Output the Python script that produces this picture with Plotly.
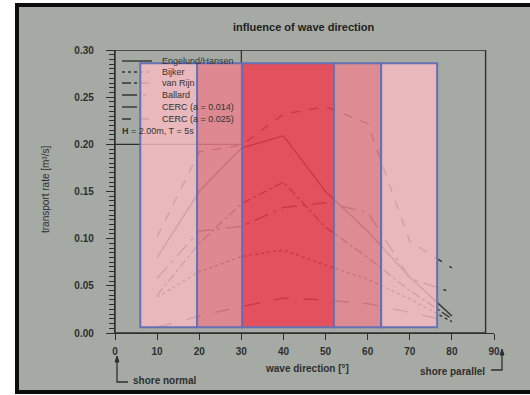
import plotly.graph_objects as go

# ---------------- data ----------------
directions = [10, 20, 30, 40, 50, 60, 70, 80]
engelund_hansen = [0.080, 0.150, 0.196, 0.209, 0.150, 0.108, 0.059, 0.018]
bijker = [0.038, 0.065, 0.081, 0.088, 0.072, 0.057, 0.036, 0.012]
van_rijn = [0.040, 0.095, 0.137, 0.160, 0.112, 0.080, 0.045, 0.015]
ballard = [0.058, 0.108, 0.113, 0.133, 0.138, 0.128, 0.058, 0.043]
cerc_014 = [0.006, 0.018, 0.028, 0.037, 0.035, 0.031, 0.022, 0.012]
cerc_025 = [0.102, 0.192, 0.199, 0.232, 0.240, 0.222, 0.097, 0.069]

series_names = ["Engelund/Hansen", "Bijker", "van Rijn", "Ballard",
                "CERC (a = 0.014)", "CERC (a = 0.025)"]
series_values = [engelund_hansen, bijker, van_rijn, ballard, cerc_014, cerc_025]
series_dash = ["solid", "dot", "dashdot", "longdashdot", "longdash", "dash"]

x_ticks = [0, 10, 20, 30, 40, 50, 60, 70, 80, 90]
y_ticks = [0.00, 0.05, 0.10, 0.15, 0.20, 0.25, 0.30]
y_tick_labels = ["0.00", "0.05", "0.10", "0.15", "0.20", "0.25", "0.30"]

# overlay bands (x edges in degrees) and their colours
band_edges = [6, 19.5, 30.2, 52, 63.2, 76.5]
band_colors = ["rgba(249,187,195,0.80)", "rgba(236,128,140,0.80)",
               "rgba(242,58,76,0.80)", "rgba(236,132,144,0.80)",
               "rgba(249,187,195,0.80)"]
band_bottom, band_top = 0.006, 0.286

# ---------------- figure ----------------
W, H = 530, 395
L, R, T, B = 115, 36, 50, 62
pw, ph = W - L - R, H - T - B


def px(x):
    return (x - L) / pw


def py(y):
    return (H - B - y) / ph


ink = "#2e2e2e"
font = "Liberation Sans, Arial, sans-serif"

fig = go.Figure()
for name, vals, dash in zip(series_names, series_values, series_dash):
    fig.add_trace(go.Scatter(x=directions, y=vals, mode="lines", name=name,
                             line=dict(color="#333333", width=1.4, dash=dash),
                             showlegend=False, hoverinfo="skip"))

shapes = []
# photo background + black frame
shapes.append(dict(type="rect", xref="paper", yref="paper", layer="below",
                   x0=px(17), x1=px(560), y0=py(392), y1=py(5),
                   fillcolor="#a5aba4", line=dict(color="#0c0c0c", width=4)))
# plot frame box
shapes.append(dict(type="rect", xref="x", yref="y", x0=0, x1=88, y0=0, y1=0.30,
                   line=dict(color=ink, width=1.4)))
# legend frame
shapes.append(dict(type="line", xref="x", yref="y", x0=30, x1=30, y0=0.20, y1=0.30,
                   line=dict(color=ink, width=1.2)))
shapes.append(dict(type="line", xref="x", yref="y", x0=0, x1=30, y0=0.20, y1=0.20,
                   line=dict(color=ink, width=1.2)))

annotations = []
leg_rows = [61, 72, 83, 95, 107, 119]
for name, dash, ry in zip(series_names, series_dash, leg_rows):
    shapes.append(dict(type="line", xref="paper", yref="paper",
                       x0=px(122), x1=px(152), y0=py(ry), y1=py(ry),
                       line=dict(color="#333333", width=1.4, dash=dash)))
    annotations.append(dict(text=name, xref="paper", yref="paper", x=px(160), y=py(ry),
                            xanchor="left", yanchor="middle", showarrow=False,
                            font=dict(family=font, size=9, color="#333333")))
annotations.append(dict(text="<b>H</b> = 2.00m, T = 5s", xref="paper", yref="paper",
                        x=px(120), y=py(131), xanchor="left", yanchor="middle",
                        showarrow=False, font=dict(family=font, size=9, color="#333333")))

# overlay bands
for x0, x1, c in zip(band_edges[:-1], band_edges[1:], band_colors):
    shapes.append(dict(type="rect", xref="x", yref="y", layer="above",
                       x0=x0, x1=x1, y0=band_bottom, y1=band_top,
                       fillcolor=c, line=dict(color="#6670b4", width=2)))

# shore normal / parallel markers (line + small arrow heads)
shapes.append(dict(type="path", xref="paper", yref="paper",
                   path=f"M {px(117)} {py(360)} L {px(117)} {py(382)} L {px(128)} {py(382)}",
                   line=dict(color=ink, width=1.3)))
shapes.append(dict(type="path", xref="paper", yref="paper",
                   path=f"M {px(115)} {py(362)} L {px(117)} {py(356)} L {px(119)} {py(362)} Z",
                   fillcolor=ink, line=dict(color=ink, width=1)))
shapes.append(dict(type="path", xref="paper", yref="paper",
                   path=f"M {px(491)} {py(370)} L {px(502)} {py(370)} L {px(502)} {py(352)}",
                   line=dict(color=ink, width=1.3)))
shapes.append(dict(type="path", xref="paper", yref="paper",
                   path=f"M {px(500)} {py(355)} L {px(502)} {py(349)} L {px(504)} {py(355)} Z",
                   fillcolor=ink, line=dict(color=ink, width=1)))

annotations.append(dict(text="<b>shore normal</b>", xref="paper", yref="paper",
                        x=px(131), y=py(380), xanchor="left", yanchor="middle",
                        showarrow=False, font=dict(family=font, size=10, color=ink)))
annotations.append(dict(text="<b>shore parallel</b>", xref="paper", yref="paper",
                        x=px(487), y=py(371), xanchor="right", yanchor="middle",
                        showarrow=False, font=dict(family=font, size=10, color=ink)))
annotations.append(dict(text="<b>influence of wave direction</b>", xref="paper", yref="paper",
                        x=px(303), y=py(27), xanchor="center", yanchor="middle",
                        showarrow=False, font=dict(family=font, size=11, color="#222222")))
annotations.append(dict(text="<b>wave direction [°]</b>", xref="paper", yref="paper",
                        x=px(307), y=py(368), xanchor="center", yanchor="middle",
                        showarrow=False, font=dict(family=font, size=10, color=ink)))
annotations.append(dict(text="transport rate [m³/s]", xref="paper", yref="paper",
                        x=px(45), y=py(190), xanchor="center", yanchor="middle",
                        textangle=-90, showarrow=False,
                        font=dict(family=font, size=10, color=ink)))

fig.update_layout(
    width=W, height=H,
    margin=dict(l=L, r=R, t=T, b=B),
    paper_bgcolor="#ffffff",
    plot_bgcolor="rgba(0,0,0,0)",
    showlegend=False,
    hovermode=False,
    shapes=shapes,
    annotations=annotations,
    font=dict(family=font, size=10, color=ink),
    xaxis=dict(range=[0, 90], tickvals=x_ticks, ticks="outside", ticklen=6,
               tickwidth=1.3, tickcolor=ink, showline=True, linecolor=ink, linewidth=1.4,
               showgrid=False, zeroline=False, ticklabelstandoff=3,
               tickfont=dict(family=font, size=10, color=ink, weight="bold")),
    yaxis=dict(range=[0, 0.30], tickvals=y_ticks, ticktext=y_tick_labels,
               ticks="outside", ticklen=8, tickwidth=1.3, tickcolor=ink,
               minor=dict(dtick=0.005, ticks="outside", ticklen=5, tickcolor=ink, tickwidth=1),
               showline=True, linecolor=ink, linewidth=1.4,
               showgrid=False, zeroline=False, ticklabelstandoff=10,
               tickfont=dict(family=font, size=10, color=ink, weight="bold")),
)

fig.write_html("out.html", config={"displayModeBar": False},
               post_script="document.body.style.margin='0px';document.body.style.overflow='hidden';")
